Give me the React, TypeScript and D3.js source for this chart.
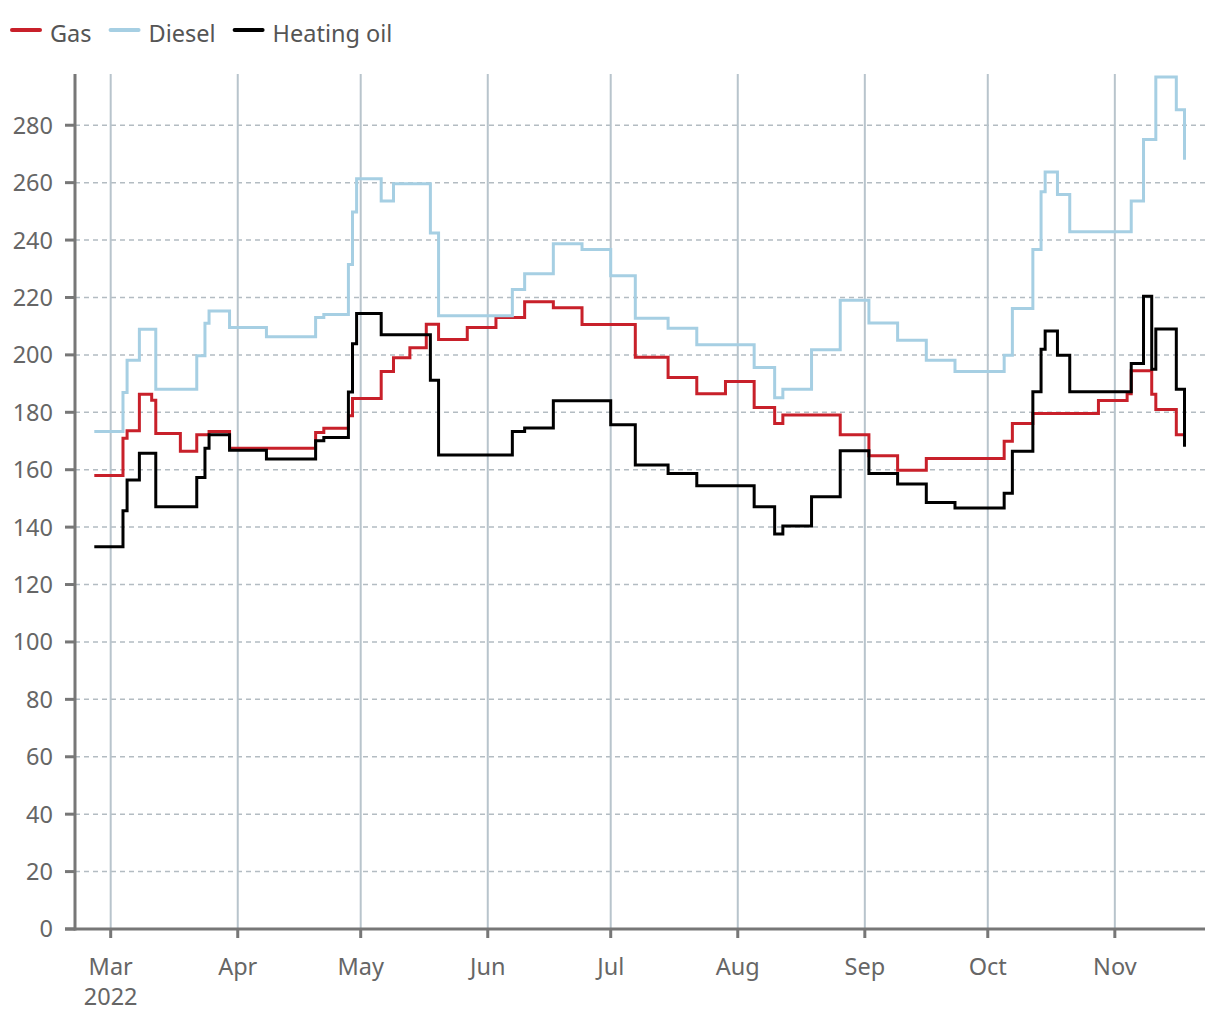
import React, { useRef, useEffect } from "react";
import * as d3 from "d3";

// weekly price changes (step series)
const gasDates = [
  "2022-02-25", "2022-03-04", "2022-03-05", "2022-03-08", "2022-03-11", "2022-03-12",
  "2022-03-18", "2022-03-22", "2022-03-25", "2022-03-30", "2022-04-20", "2022-04-22",
  "2022-04-28", "2022-04-29", "2022-05-06", "2022-05-09", "2022-05-13", "2022-05-17",
  "2022-05-20", "2022-05-27", "2022-06-03", "2022-06-10", "2022-06-17", "2022-06-24",
  "2022-07-07", "2022-07-15", "2022-07-22", "2022-07-29", "2022-08-05", "2022-08-10",
  "2022-08-12", "2022-08-26", "2022-09-02", "2022-09-09", "2022-09-16", "2022-10-05",
  "2022-10-07", "2022-10-12", "2022-10-28", "2022-11-04", "2022-11-05", "2022-11-10",
  "2022-11-11", "2022-11-16", "2022-11-18",
];
const gasValues = [
  158, 171, 173.6, 186.3, 184.2, 172.6,
  166.4, 172.2, 173.3, 167.5, 173, 174.4,
  178.8, 184.8, 194.2, 199, 202.5, 210.7,
  205.4, 209.5, 213, 218.5, 216.4, 210.6,
  199.2, 192.1, 186.5, 190.7, 181.7, 176.1,
  179.1, 172.2, 164.9, 159.8, 163.9, 169.9,
  176.1, 179.6, 184.1, 186.5, 194.5, 186.3,
  181, 172.2, 172.2,
];

const dieselDates = [
  "2022-02-25", "2022-03-04", "2022-03-05", "2022-03-08", "2022-03-12", "2022-03-22",
  "2022-03-24", "2022-03-25", "2022-03-30", "2022-04-08", "2022-04-20", "2022-04-22",
  "2022-04-28", "2022-04-29", "2022-04-30", "2022-05-06", "2022-05-09", "2022-05-18",
  "2022-05-20", "2022-06-07", "2022-06-10", "2022-06-17", "2022-06-24", "2022-07-01",
  "2022-07-07", "2022-07-15", "2022-07-22", "2022-08-05", "2022-08-10", "2022-08-12",
  "2022-08-19", "2022-08-26", "2022-09-02", "2022-09-09", "2022-09-16", "2022-09-23",
  "2022-10-05", "2022-10-07", "2022-10-12", "2022-10-14", "2022-10-15", "2022-10-18",
  "2022-10-21", "2022-11-05", "2022-11-08", "2022-11-11", "2022-11-16", "2022-11-18",
];
const dieselValues = [
  173.3, 186.9, 198.1, 208.9, 188, 199.7,
  211, 215.3, 209.5, 206.3, 213, 214.1,
  231.5, 249.8, 261.4, 253.6, 259.6, 242.5,
  213.6, 222.8, 228.3, 238.7, 236.7, 227.6,
  212.8, 209.3, 203.5, 195.6, 185.1, 188,
  201.8, 219, 211.1, 205.1, 198.1, 194.2,
  199.9, 216.2, 236.7, 256.8, 263.7, 255.9,
  242.9, 253.6, 275, 296.8, 285.4, 268,
];

const heatingDates = [
  "2022-02-25", "2022-03-04", "2022-03-05", "2022-03-08", "2022-03-12", "2022-03-22",
  "2022-03-24", "2022-03-25", "2022-03-30", "2022-04-08", "2022-04-20", "2022-04-22",
  "2022-04-28", "2022-04-29", "2022-04-30", "2022-05-06", "2022-05-18", "2022-05-20",
  "2022-06-07", "2022-06-10", "2022-06-17", "2022-07-01", "2022-07-07", "2022-07-15",
  "2022-07-22", "2022-08-05", "2022-08-10", "2022-08-12", "2022-08-19", "2022-08-26",
  "2022-09-02", "2022-09-09", "2022-09-16", "2022-09-23", "2022-10-05", "2022-10-07",
  "2022-10-12", "2022-10-14", "2022-10-15", "2022-10-18", "2022-10-21", "2022-11-05",
  "2022-11-08", "2022-11-10", "2022-11-11", "2022-11-16", "2022-11-18",
];
const heatingValues = [
  133.2, 145.7, 156.4, 165.7, 147.1, 157.3,
  167.5, 172.2, 166.8, 163.7, 170.1, 171.2,
  187.1, 203.9, 214.4, 207, 191.2, 165.1,
  173.3, 174.5, 184, 175.7, 161.6, 158.7,
  154.4, 147.1, 137.6, 140.4, 150.6, 166.6,
  158.7, 155, 148.6, 146.7, 151.8, 166.4,
  187.2, 202, 208.3, 199.9, 187.2, 197,
  220.4, 195, 209, 188, 168,
];

const seriesNames = ["Gas", "Diesel", "Heating oil"];
const seriesColors = ["#c8202a", "#a6cfe3", "#000000"];

const monthTicks = [
  "2022-03-01", "2022-04-01", "2022-05-01", "2022-06-01", "2022-07-01",
  "2022-08-01", "2022-09-01", "2022-10-01", "2022-11-01",
];
const monthLabels = ["Mar", "Apr", "May", "Jun", "Jul", "Aug", "Sep", "Oct", "Nov"];
const yTicks = [0, 20, 40, 60, 80, 100, 120, 140, 160, 180, 200, 220, 240, 260, 280];

const parse = d3.utcParse("%Y-%m-%d");
const FONT = "'Noto Sans', sans-serif";
const FONT_SIZE = 23.5;

const App = () => {
  const svgRef = useRef(null);

  useEffect(() => {
    const svg = d3.select(svgRef.current);
    svg.selectAll("*").remove();

    const left = 75, right = 1205, top = 74, bottom = 929;

    const x = d3.scaleUtc()
      .domain([new Date(Date.UTC(2022, 1, 20, 7)), new Date(Date.UTC(2022, 10, 23))])
      .range([left, right]);
    const y = d3.scaleLinear().domain([0, 297.5]).range([bottom, 75]);

    const series = [
      d3.zip(gasDates.map(parse), gasValues),
      d3.zip(dieselDates.map(parse), dieselValues),
      d3.zip(heatingDates.map(parse), heatingValues),
    ];

    // horizontal dashed grid
    svg.append("g")
      .selectAll("line")
      .data(yTicks.filter(d => d > 0))
      .enter()
      .append("line")
      .attr("x1", left)
      .attr("x2", right)
      .attr("y1", d => y(d))
      .attr("y2", d => y(d))
      .attr("stroke", "#b3bcc2")
      .attr("stroke-width", 1.5)
      .attr("stroke-dasharray", "5,4");

    // vertical month grid
    svg.append("g")
      .selectAll("line")
      .data(monthTicks.map(parse))
      .enter()
      .append("line")
      .attr("x1", d => x(d))
      .attr("x2", d => x(d))
      .attr("y1", top)
      .attr("y2", bottom)
      .attr("stroke", "#b8c4cc")
      .attr("stroke-width", 2);

    // lines
    const line = d3.line()
      .x(d => x(d[0]))
      .y(d => y(d[1]))
      .curve(d3.curveStepAfter);

    series.forEach((s, i) => {
      svg.append("path")
        .datum(s)
        .attr("fill", "none")
        .attr("stroke", seriesColors[i])
        .attr("stroke-width", 3)
        .attr("stroke-linejoin", "miter")
        .attr("d", line);
    });

    // y axis
    const yAxis = svg.append("g").attr("font-family", FONT);
    yAxis.append("line")
      .attr("x1", left).attr("x2", left)
      .attr("y1", top).attr("y2", bottom + 1.5)
      .attr("stroke", "#777").attr("stroke-width", 3);
    const yt = yAxis.selectAll(".yt")
      .data(yTicks)
      .enter()
      .append("g")
      .attr("transform", d => `translate(0,${y(d)})`);
    yt.append("line")
      .attr("x1", left - 10).attr("x2", left)
      .attr("stroke", "#777").attr("stroke-width", 3);
    yt.append("text")
      .attr("x", left - 22)
      .attr("dy", "0.36em")
      .attr("text-anchor", "end")
      .attr("font-size", FONT_SIZE)
      .attr("fill", "#666")
      .text(d => d);

    // x axis
    const xAxis = svg.append("g").attr("font-family", FONT);
    xAxis.append("line")
      .attr("x1", left - 10).attr("x2", right)
      .attr("y1", bottom).attr("y2", bottom)
      .attr("stroke", "#777").attr("stroke-width", 3);
    const xt = xAxis.selectAll(".xt")
      .data(monthTicks.map(parse))
      .enter()
      .append("g")
      .attr("transform", d => `translate(${x(d)},0)`);
    xt.append("line")
      .attr("y1", bottom).attr("y2", bottom + 9)
      .attr("stroke", "#777").attr("stroke-width", 3);
    xt.append("text")
      .attr("y", 975)
      .attr("text-anchor", "middle")
      .attr("font-size", FONT_SIZE)
      .attr("fill", "#666")
      .text((d, i) => monthLabels[i]);
    xAxis.append("text")
      .attr("x", x(parse(monthTicks[0])))
      .attr("y", 1005)
      .attr("text-anchor", "middle")
      .attr("font-size", FONT_SIZE)
      .attr("fill", "#666")
      .text("2022");

    // legend
    const legend = svg.append("g").attr("font-family", FONT);
    let lx = 12;
    seriesNames.forEach((name, i) => {
      legend.append("line")
        .attr("x1", lx).attr("x2", lx + 28)
        .attr("y1", 30).attr("y2", 30)
        .attr("stroke", seriesColors[i])
        .attr("stroke-width", 4)
        .attr("stroke-linecap", "round");
      const t = legend.append("text")
        .attr("x", lx + 38)
        .attr("y", 42)
        .attr("font-size", FONT_SIZE)
        .attr("fill", "#555")
        .text(name);
      const w = t.node().getComputedTextLength();
      lx += 38 + w + 19;
    });
  }, []);

  return (
    <svg
      ref={svgRef}
      width={1220}
      height={1020}
      style={{ position: "absolute", left: 0, top: 0, background: "#fff" }}
    />
  );
};

export default App;
